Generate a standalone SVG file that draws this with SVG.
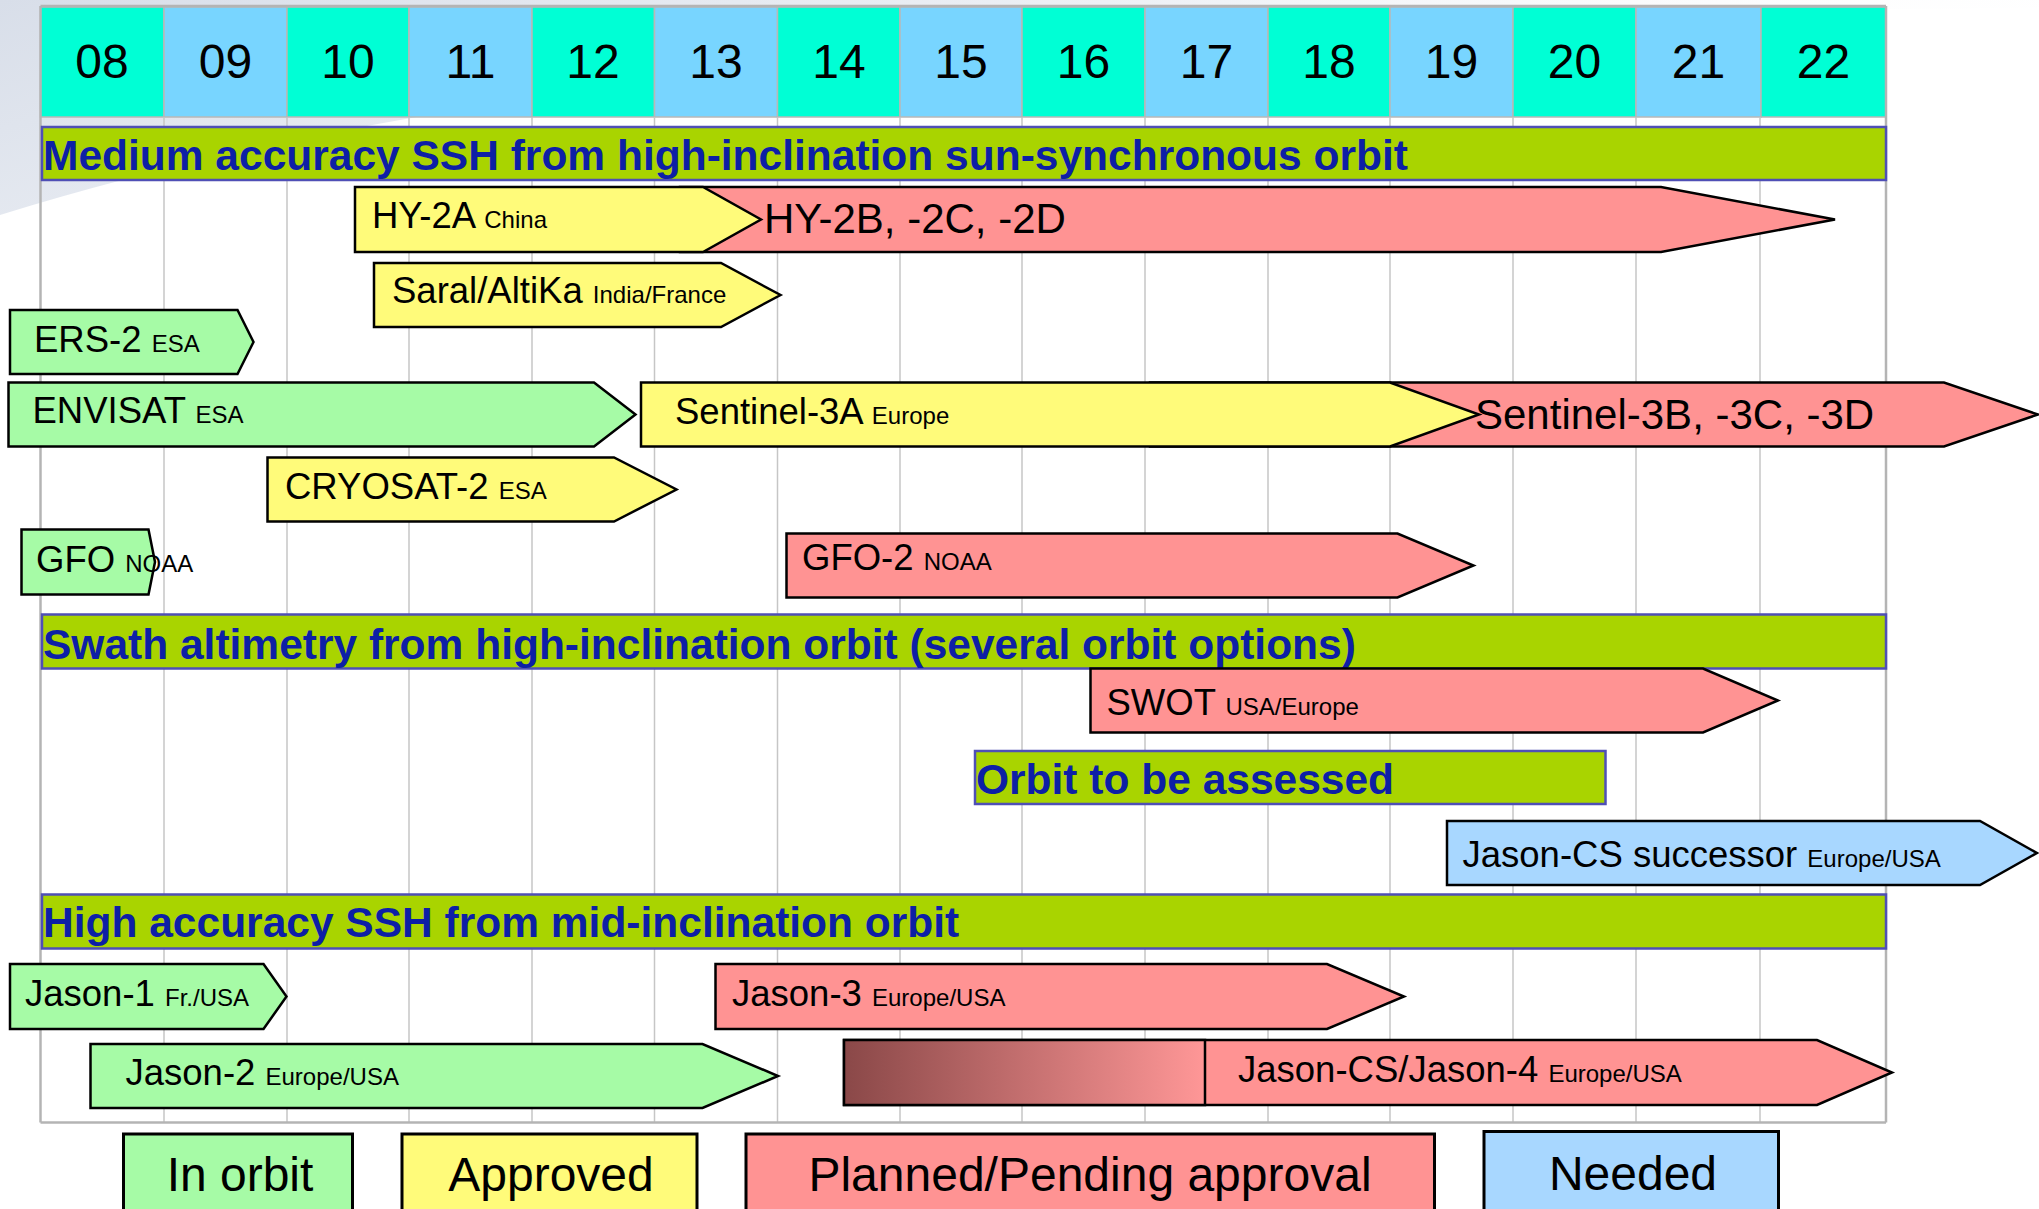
<svg xmlns="http://www.w3.org/2000/svg" width="2039" height="1209" viewBox="0 0 2039 1209">
<defs>
<linearGradient id="bgsw" x1="0" y1="0" x2="1" y2="0.3">
<stop offset="0" stop-color="#D8DEE9"/>
<stop offset="0.5" stop-color="#EDF0F5"/>
<stop offset="1" stop-color="#FFFFFF" stop-opacity="0"/>
</linearGradient>
<linearGradient id="tbd" x1="0" y1="0" x2="1" y2="0">
<stop offset="0" stop-color="#8A4848"/>
<stop offset="1" stop-color="#FF9797"/>
</linearGradient>
</defs>
<style>
.hd text{font-family:"Liberation Sans",Arial,sans-serif;font-size:48px;text-anchor:middle;fill:#000}
.tq{fill:#00FFD5;stroke:#B8B8B8;stroke-width:1.5}
.bl{fill:#78D5FF;stroke:#B8B8B8;stroke-width:1.5}
.grid line{stroke:#C6C6C6;stroke-width:1.5}
.frame line{stroke:#B4B4B4;stroke-width:2.5}
.sec rect{fill:#A9D400;stroke:#4F4FB5;stroke-width:2.5}
.sec text{font-family:"Liberation Sans",Arial,sans-serif;font-weight:bold;font-size:42.5px;fill:#0D1FA6}
.bar{stroke:#000;stroke-width:2.5;stroke-linejoin:miter}
.g{fill:#A6FBA6}.y{fill:#FFFB7A}.p{fill:#FF9393}.n{fill:#A8D7FF}
.lbl{font-family:"Liberation Sans",Arial,sans-serif;font-size:36.5px;fill:#000}
.sm{font-size:24px}
.big{font-size:42px}
.leg rect{stroke:#000;stroke-width:3}
.leg text{font-family:"Liberation Sans",Arial,sans-serif;font-size:48px;text-anchor:middle;fill:#000}
</style>
<rect width="2039" height="1209" fill="#FFFFFF"/>
<path d="M0,0 H2039 V8 C1200,12 500,60 0,215 Z" fill="url(#bgsw)"/>
<g id="header" class="hd">
<rect class="tq" x="40.5" y="7" width="123.5" height="110"/>
<rect class="bl" x="164" y="7" width="123" height="110"/>
<rect class="tq" x="287" y="7" width="122" height="110"/>
<rect class="bl" x="409" y="7" width="123" height="110"/>
<rect class="tq" x="532" y="7" width="122.5" height="110"/>
<rect class="bl" x="654.5" y="7" width="123" height="110"/>
<rect class="tq" x="777.5" y="7" width="122.5" height="110"/>
<rect class="bl" x="900" y="7" width="122" height="110"/>
<rect class="tq" x="1022" y="7" width="123" height="110"/>
<rect class="bl" x="1145" y="7" width="123" height="110"/>
<rect class="tq" x="1268" y="7" width="122" height="110"/>
<rect class="bl" x="1390" y="7" width="123" height="110"/>
<rect class="tq" x="1513" y="7" width="123" height="110"/>
<rect class="bl" x="1636" y="7" width="125" height="110"/>
<rect class="tq" x="1761" y="7" width="125" height="110"/>
<text x="102" y="78">08</text>
<text x="225.5" y="78">09</text>
<text x="348" y="78">10</text>
<text x="470.5" y="78">11</text>
<text x="593" y="78">12</text>
<text x="716" y="78">13</text>
<text x="839" y="78">14</text>
<text x="961" y="78">15</text>
<text x="1083.5" y="78">16</text>
<text x="1206.5" y="78">17</text>
<text x="1329" y="78">18</text>
<text x="1451.5" y="78">19</text>
<text x="1574.5" y="78">20</text>
<text x="1698.5" y="78">21</text>
<text x="1823.5" y="78">22</text>
</g>
<g id="grid" class="grid">
<line x1="164" y1="117" x2="164" y2="1122"/>
<line x1="287" y1="117" x2="287" y2="1122"/>
<line x1="409" y1="117" x2="409" y2="1122"/>
<line x1="532" y1="117" x2="532" y2="1122"/>
<line x1="654.5" y1="117" x2="654.5" y2="1122"/>
<line x1="777.5" y1="117" x2="777.5" y2="1122"/>
<line x1="900" y1="117" x2="900" y2="1122"/>
<line x1="1022" y1="117" x2="1022" y2="1122"/>
<line x1="1145" y1="117" x2="1145" y2="1122"/>
<line x1="1268" y1="117" x2="1268" y2="1122"/>
<line x1="1390" y1="117" x2="1390" y2="1122"/>
<line x1="1513" y1="117" x2="1513" y2="1122"/>
<line x1="1636" y1="117" x2="1636" y2="1122"/>
<line x1="1760" y1="117" x2="1760" y2="1122"/>
</g>
<g id="frame" class="frame">
<line x1="40.5" y1="6" x2="1886" y2="6"/>
<line x1="40.5" y1="6" x2="40.5" y2="1122.5"/>
<line x1="1886" y1="6" x2="1886" y2="1122.5"/>
<line x1="40.5" y1="1122.5" x2="1886" y2="1122.5"/>
</g>
<g id="sec-medium" class="sec">
<rect x="42" y="127" width="1844" height="53"/>
<text x="43" y="170">Medium accuracy SSH from high-inclination sun-synchronous orbit</text>
</g>
<g id="hy2b">
<polygon class="bar p" points="680,187 1661,187 1835,219.5 1661,252 680,252"/>
</g>
<g id="hy2a">
<polygon class="bar y" points="355,187 703,187 761,219.5 703,252 355,252"/>
<text class="lbl" x="372" y="228">HY-2A <tspan class="sm">China</tspan></text>
</g>
<text class="lbl big" x="764" y="233">HY-2B, -2C, -2D</text>
<g id="saral">
<polygon class="bar y" points="374,263 721,263 780.5,295 721,327 374,327"/>
<text class="lbl" x="392" y="303">Saral/AltiKa <tspan class="sm">India/France</tspan></text>
</g>
<g id="ers2">
<polygon class="bar g" points="10,310 237.5,310 253.5,342 237.5,374 10,374"/>
<text class="lbl" x="34" y="352">ERS-2 <tspan class="sm">ESA</tspan></text>
</g>
<g id="envisat">
<polygon class="bar g" points="8.5,382.5 594,382.5 635.5,414.5 594,446.5 8.5,446.5"/>
<text class="lbl" x="32.5" y="422.5">ENVISAT <tspan class="sm">ESA</tspan></text>
</g>
<g id="sentinel3b">
<polygon class="bar p" points="1150,382.5 1944,382.5 2038,414.5 1944,446.5 1150,446.5"/>
</g>
<g id="sentinel3a">
<polygon class="bar y" points="641,382.5 1390,382.5 1479,414.5 1390,446.5 641,446.5"/>
<text class="lbl" x="675" y="423.5">Sentinel-3A <tspan class="sm">Europe</tspan></text>
</g>
<text class="lbl big" x="1475" y="428.5">Sentinel-3B, -3C, -3D</text>
<g id="cryosat2">
<polygon class="bar y" points="267.5,457.5 614,457.5 676.5,489.5 614,521.5 267.5,521.5"/>
<text class="lbl" x="285" y="498.5">CRYOSAT-2 <tspan class="sm">ESA</tspan></text>
</g>
<g id="gfo">
<polygon class="bar g" points="21.5,529.5 148.5,529.5 155,562 148.5,594.5 21.5,594.5"/>
<text class="lbl" x="36" y="572">GFO <tspan class="sm">NOAA</tspan></text>
</g>
<g id="gfo2">
<polygon class="bar p" points="786.5,533.5 1397.5,533.5 1473.5,565.5 1397.5,597.5 786.5,597.5"/>
<text class="lbl" x="802" y="569.5">GFO-2 <tspan class="sm">NOAA</tspan></text>
</g>
<g id="sec-swath" class="sec">
<rect x="42" y="614.5" width="1844" height="54"/>
<text x="43" y="658.5">Swath altimetry from high-inclination orbit (several orbit options)</text>
</g>
<g id="swot">
<polygon class="bar p" points="1090.5,668.5 1703,668.5 1778,700.5 1703,732.5 1090.5,732.5"/>
<text class="lbl" x="1106.5" y="714.5">SWOT <tspan class="sm">USA/Europe</tspan></text>
</g>
<g id="orbit-tba" class="sec">
<rect x="975" y="751" width="630.5" height="53"/>
<text x="976" y="793.5">Orbit to be assessed</text>
</g>
<g id="jasoncs-successor">
<polygon class="bar n" points="1447,821 1980,821 2037,853 1980,885 1447,885"/>
<text class="lbl" x="1462.5" y="867">Jason-CS successor <tspan class="sm">Europe/USA</tspan></text>
</g>
<g id="sec-high" class="sec">
<rect x="42" y="894.5" width="1844" height="54"/>
<text x="43" y="937">High accuracy SSH from mid-inclination orbit</text>
</g>
<g id="jason1">
<polygon class="bar g" points="10,964 263.5,964 286.5,996.5 263.5,1029 10,1029"/>
<text class="lbl" x="25" y="1006">Jason-1 <tspan class="sm">Fr./USA</tspan></text>
</g>
<g id="jason3">
<polygon class="bar p" points="715.5,964 1327,964 1404,996.5 1327,1029 715.5,1029"/>
<text class="lbl" x="732" y="1006">Jason-3 <tspan class="sm">Europe/USA</tspan></text>
</g>
<g id="jason2">
<polygon class="bar g" points="90.5,1044 702.5,1044 778,1076 702.5,1108 90.5,1108"/>
<text class="lbl" x="125.5" y="1084.5">Jason-2 <tspan class="sm">Europe/USA</tspan></text>
</g>
<g id="jasoncs-jason4">
<polygon class="bar p" points="844,1040 1817,1040 1892,1072.5 1817,1105 844,1105"/>
<rect class="bar" x="844" y="1040" width="361" height="65" fill="url(#tbd)"/>
<text class="lbl" x="1238" y="1082">Jason-CS/Jason-4 <tspan class="sm">Europe/USA</tspan></text>
</g>
<g id="legend" class="leg">
<g id="leg-inorbit"><rect class="g" x="123.5" y="1134" width="229" height="85"/><text x="240" y="1191">In orbit</text></g>
<g id="leg-approved"><rect class="y" x="402" y="1134" width="295" height="85"/><text x="551" y="1191">Approved</text></g>
<g id="leg-planned"><rect class="p" x="746" y="1134" width="688.5" height="85"/><text x="1090" y="1191">Planned/Pending approval</text></g>
<g id="leg-needed"><rect class="n" x="1484" y="1131.5" width="294.5" height="88"/><text x="1633" y="1190">Needed</text></g>
</g>
</svg>
